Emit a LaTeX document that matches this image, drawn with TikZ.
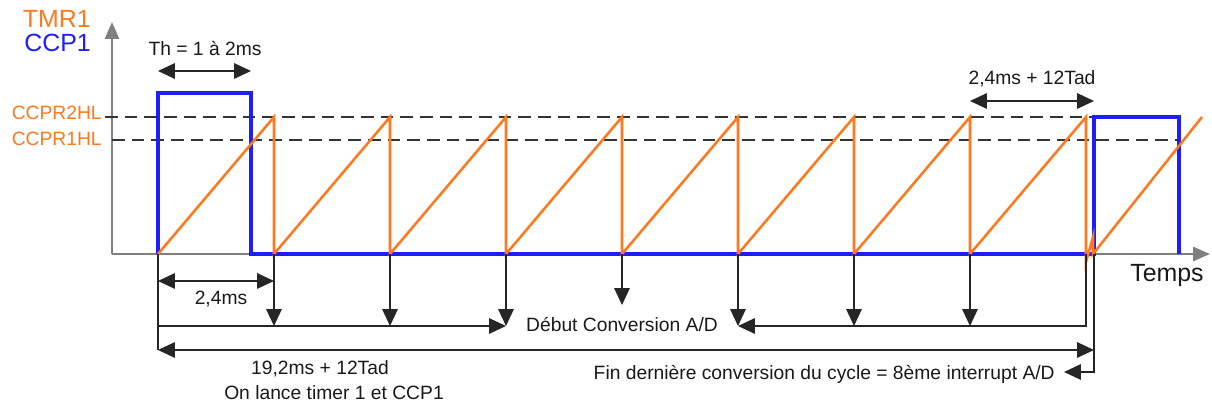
\documentclass[tikz,border=0pt]{standalone}
\usepackage{fontspec}
\setmainfont{Liberation Sans}
\usetikzlibrary{arrows.meta}
\definecolor{tmrorange}{RGB}{255,120,30}
\definecolor{ccpblue}{RGB}{30,30,250}
\definecolor{axegris}{RGB}{128,128,128}
\tikzset{
  fleche/.style={-{Triangle[length=12pt,width=11pt]}, line width=1pt, black!85},
  dfleche/.style={{Triangle[length=12pt,width=11pt]}-{Triangle[length=12pt,width=11pt]}, line width=1pt, black!85},
  axe/.style={axegris, line width=1.8pt, -{Triangle[length=12pt,width=10pt]}},
  txt/.style={font=\fontsize{13.7}{16}\selectfont, anchor=base, inner sep=0pt, black!90},
  grand/.style={font=\fontsize{17.7}{20}\selectfont},
  niveau/.style={dash pattern=on 9pt off 5pt, line width=0.8pt, black!80},
}
\begin{document}
\begin{tikzpicture}[x=0.025cm, y=0.025cm]
\useasboundingbox (-112,-151) rectangle (1100,254);

% Axes
\coordinate (O) at (0,0);
\coordinate (ymax) at (0,232);
\coordinate (xmax) at (1098,0);
\draw[axe] (O) -- (ymax);
\draw[axe] (O) -- (xmax);
\node[txt, grand] (temps) at (1055,-28) {Temps};

% Legende
\node[txt, grand, anchor=base east, tmrorange] (tmr) at (-21,226) {TMR1};
\node[txt, grand, anchor=base east, ccpblue] (ccp) at (-21,202) {CCP1};

% Niveaux CCPR
\node[txt, anchor=east, tmrorange] (ccpr2) at (-10,141) {CCPR2HL};
\node[txt, anchor=east, tmrorange] (ccpr1) at (-10,115) {CCPR1HL};
\draw[niveau] (-7,137) -- (1067,137);
\draw[niveau] (0,114) -- (1067,114);

% Signal CCP1
\draw[ccpblue, line width=2.8pt] (46,0) -- (46,161) -- (139,161) -- (139,0)
  -- (982,0) -- (982,137) -- (1067,137) -- (1067,0);

% Dents de scie TMR1
\draw[tmrorange, line width=1.8pt] (46,0)
  \foreach \i in {1,...,7} { -- ({46+116*\i},137) -- ({46+116*\i},0) }
  -- (974,137) -- (974,-8) -- (981,17) -- (981,0) -- (1090,137);

% Points de depart des fleches
\coordinate (t0) at (46,0);
\foreach \i in {1,...,8} {
  \coordinate (t\i) at ({46+116*\i},0);
  \coordinate (b\i) at ({46+116*\i},-72);
}
\coordinate (t9) at (982,0);
\coordinate (b0) at (46,-72);
\coordinate (l0) at (46,-96);
\coordinate (l9) at (982,-96);
\coordinate (m4) at (510,-51);
\coordinate (f9) at (952,-118);

% Th
\coordinate (th1) at (46,183);
\coordinate (th2) at (139,183);
\draw[dfleche] (th1) -- (th2);
\node[txt] (th) at (93,198) {Th = 1 à 2ms};

% 2,4ms + 12Tad
\coordinate (ta1) at (858,153);
\coordinate (ta2) at (982,153);
\draw[dfleche] (ta1) -- (ta2);
\node[txt] (tad) at (920,169) {2,4ms + 12Tad};

% 2,4ms
\coordinate (p1) at (46,-27);
\coordinate (p2) at (162,-27);
\draw[dfleche] (p1) -- (p2);
\node[txt] (per) at (109,-51) {2,4ms};

% Debut des conversions
\draw[black!85, line width=1pt] (t0) -- (l0);
\foreach \i in {1,2,3,5,6,7} {
  \draw[fleche] (t\i) -- (b\i);
}
\draw[fleche] (b0) -- (b3);
\draw[fleche] (t8) |- (b5);
\draw[fleche] (t4) -- (m4);
\node[txt] (debut) at (510,-78) {Début Conversion A/D};

% Cycle complet
\draw[dfleche] (l0) -- (l9);
\draw[fleche] (t9) |- (f9);
\node[txt] (cycle) at (208,-121) {19,2ms + 12Tad};
\node[txt] (lance) at (222,-146) {On lance timer 1 et CCP1};
\node[txt, anchor=base east] (fin) at (943,-126) {Fin dernière conversion du cycle = 8ème interrupt A/D};
\end{tikzpicture}
\end{document}
